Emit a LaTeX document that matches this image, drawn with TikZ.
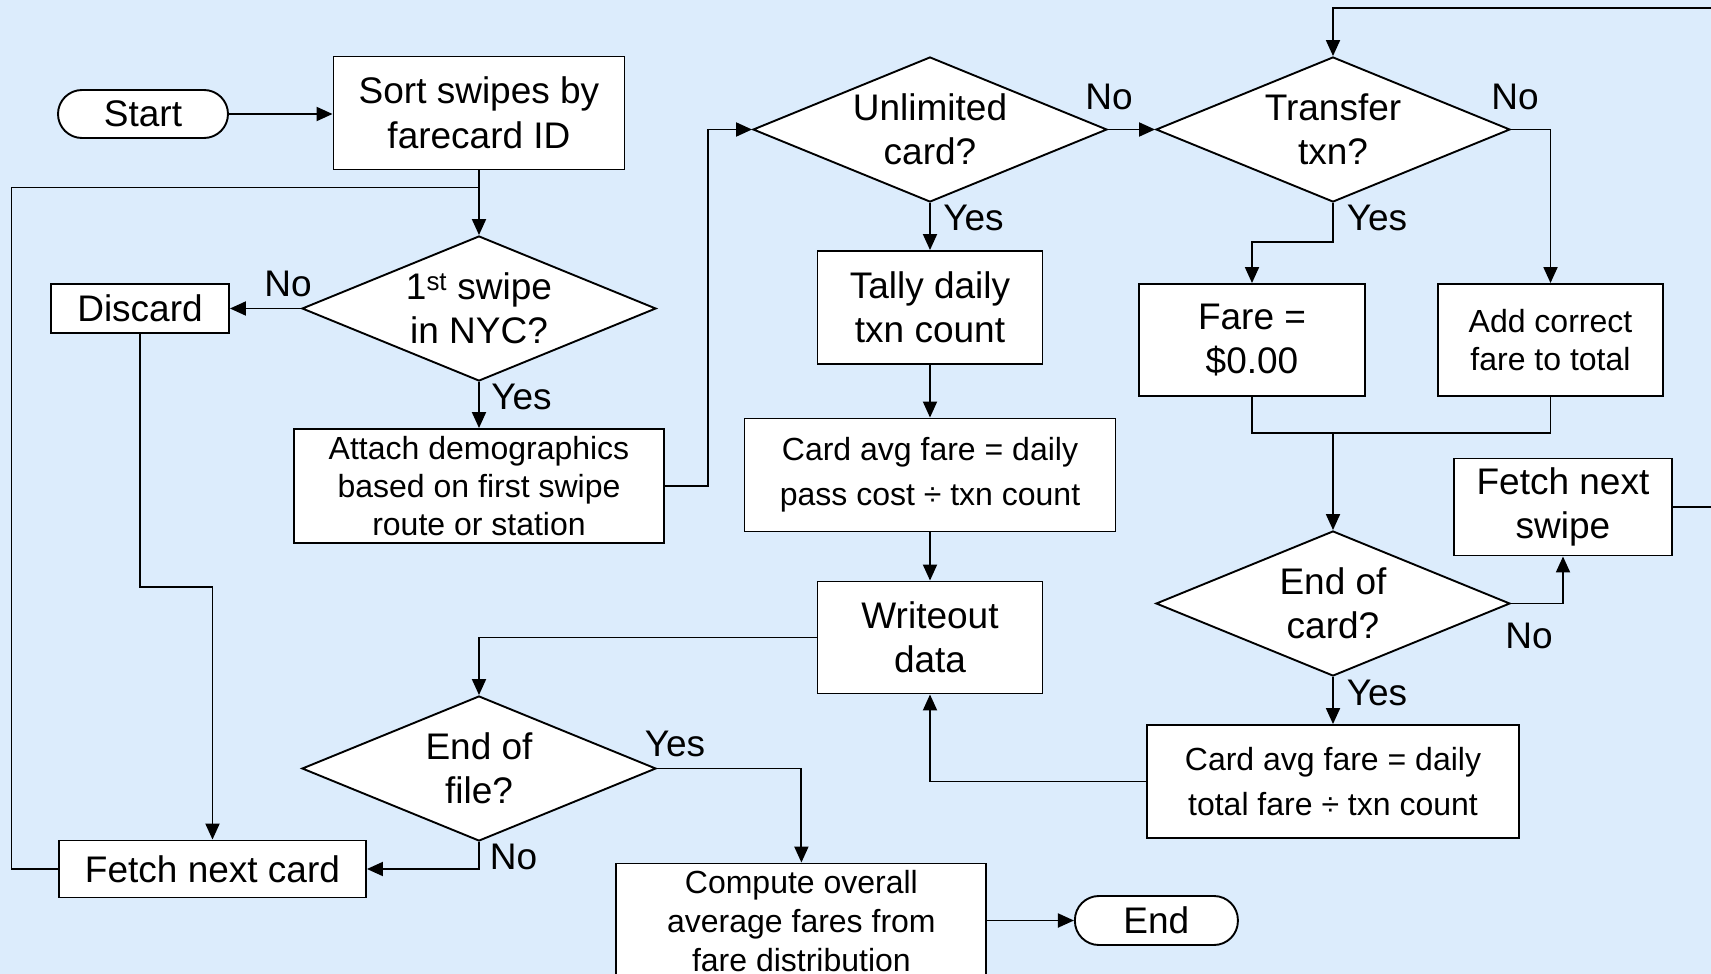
\documentclass[tikz,border=0pt]{standalone}
\usepackage{fontspec}
\setmainfont{Liberation Sans}
\usetikzlibrary{arrows.meta,shapes.geometric}
\definecolor{bgblue}{RGB}{220,236,252}
\begin{document}
\begin{tikzpicture}[x=1pt,y=-1pt,
  every node/.style={inner sep=0pt, align=center},
  big/.style={font=\fontsize{37}{44.5}\selectfont},
  small/.style={font=\fontsize{32}{38}\selectfont},
  avgfont/.style={font=\fontsize{32}{44.7}\selectfont},
  proc/.style={draw=black, fill=white, line width=1.9pt, rectangle},
  term/.style={draw=black, fill=white, line width=1.9pt, rectangle, rounded corners=24pt, big},
  dec/.style={draw=black, fill=white, line width=1.9pt, diamond, aspect=2.44, minimum width=354pt, minimum height=145pt, big},
  conn/.style={line width=1.9pt, draw=black},
  arr/.style={conn, -{Triangle[length=16pt,width=14pt]}},
  lab/.style={big}
]
\fill[bgblue] (0,0) rectangle (1711,974);
\useasboundingbox (0,0) rectangle (1711,974);

% nodes
\node[term, minimum width=170pt, minimum height=48pt] (start) at (143,114) {Start};
\node[proc, big, minimum width=291pt, minimum height=113pt] (sort) at (479,113) {Sort swipes by\\farecard ID};
\node[dec] (nyc) at (479,308.5) {1\textsuperscript{st} swipe\\in NYC?};
\node[proc, big, minimum width=178pt, minimum height=49pt] (discard) at (140,308.5) {Discard};
\node[proc, small, minimum width=370pt, minimum height=114pt] (attach) at (479,486) {Attach demographics\\based on first swipe\\route or station};
\node[dec] (unl) at (930,129.5) {Unlimited\\card?};
\node[proc, big, minimum width=225pt, minimum height=113pt] (tally) at (930,307.5) {Tally daily\\txn count};
\node[proc, avgfont, minimum width=371pt, minimum height=113pt] (avg1) at (930,475) {Card avg fare = daily\\pass cost ÷ txn count};
\node[proc, big, minimum width=225pt, minimum height=112pt] (write) at (930,637.5) {Writeout\\data};
\node[dec] (trans) at (1333,129.5) {Transfer\\txn?};
\node[proc, big, minimum width=226pt, minimum height=112pt] (fare) at (1252,340) {Fare =\\\$0.00};
\node[proc, small, minimum width=225pt, minimum height=112pt] (add) at (1550.5,340) {Add correct\\fare to total};
\node[dec] (endc) at (1333,603.5) {End of\\card?};
\node[proc, big, minimum width=218pt, minimum height=97pt] (swipe) at (1563,507) {Fetch next\\swipe};
\node[proc, avgfont, minimum width=372pt, minimum height=113pt] (avg2) at (1333,781.5) {Card avg fare = daily\\total fare ÷ txn count};
\node[dec] (eof) at (479,768.5) {End of\\file?};
\node[proc, big, minimum width=307pt, minimum height=57pt] (fcard) at (212.5,869) {Fetch next card};
\node[proc, font=\fontsize{32}{39}\selectfont, minimum width=370pt, minimum height=116pt] (comp) at (801.4,921.5) {Compute overall\\average fares from\\fare distribution};
\node[term, minimum width=163pt, minimum height=49pt] (finish) at (1156.4,920.5) {End};

% helper coordinates
\coordinate (loopL) at (11.5,187.5);
\coordinate (dj) at (140,587);
\coordinate (aj) at (708,129.5);
\coordinate (tj) at (1333,242);
\coordinate (mj) at (1333,433);
\coordinate (rj) at (1725,8);

% connectors
\draw[arr] (start.east) -- (start.east -| sort.west);
\draw[arr] (sort.south) -- (nyc.north);
\draw[conn] (fcard.west) -| (loopL) -- (loopL -| nyc.north);
\draw[arr] (nyc.west) -- (discard.east);
\draw[arr] (nyc.south) -- (attach.north);
\draw[arr] (discard.south) -- (dj) -| (fcard.north);
\draw[arr] (attach.east) -| (aj) -- (unl.west);
\draw[arr] (unl.east) -- (trans.west);
\draw[arr] (unl.south) -- (tally.north);
\draw[arr] (tally.south) -- (avg1.north);
\draw[arr] (avg1.south) -- (write.north);
\draw[arr] (write.west) -| (eof.north);
\draw[arr] (trans.south) -- (tj) -| (fare.north);
\draw[arr] (trans.east) -| (add.north);
\draw[conn] (fare.south) |- (mj) -| (add.south);
\draw[arr] (mj) -- (endc.north);
\draw[arr] (endc.east) -| (swipe.south);
\draw[arr] (swipe.east) -| (rj) -| (trans.north);
\draw[arr] (endc.south) -- (avg2.north);
\draw[arr] (avg2.west) -| (write.south);
\draw[arr] (eof.east) -| (comp.north);
\draw[arr] (eof.south) |- (fcard.east);
\draw[arr] (finish.west -| comp.east) -- (finish.west);

% labels
\node[lab] (l1) at (288,284) {No};
\node[lab] (l2) at (521.5,396.5) {Yes};
\node[lab] (l3) at (1109,97) {No};
\node[lab] (l4) at (973.5,218) {Yes};
\node[lab] (l5) at (1515,97) {No};
\node[lab] (l6) at (1377,218) {Yes};
\node[lab] (l7) at (1529,636) {No};
\node[lab] (l8) at (1377,693) {Yes};
\node[lab] (l9) at (675,744) {Yes};
\node[lab] (l10) at (513.5,856.5) {No};
\end{tikzpicture}
\end{document}
